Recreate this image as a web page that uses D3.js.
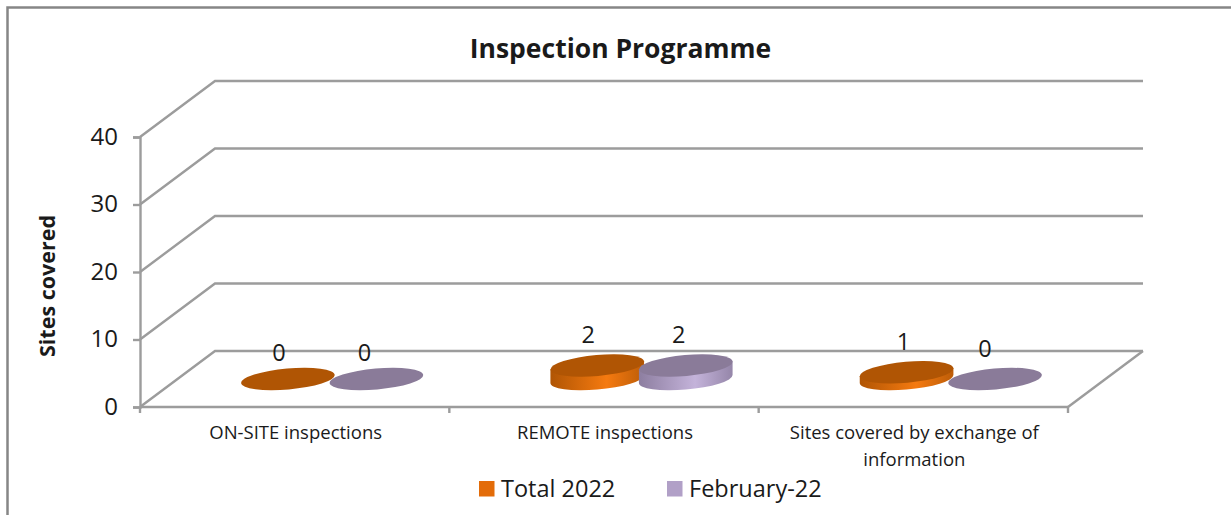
<!DOCTYPE html>
<html>
<head>
<meta charset="utf-8">
<script src="https://cdn.jsdelivr.net/npm/d3@7"></script>
<style>
    html, body { margin: 0; padding: 0; background: #fff; overflow: hidden; }
    text { font-family: "Open Sans", "Noto Sans", sans-serif; fill: #1a1a1a; }
</style>
</head>
<body>
<div id="chart"></div>
<script>
// chart data
const categories = ["ON-SITE inspections", "REMOTE inspections", "Sites covered by exchange of information"];
const seriesNames = ["Total 2022", "February-22"];
const total2022 = [0, 2, 1];
const february22 = [0, 2, 0];
const yTicks = [0, 10, 20, 30, 40];

const seriesData = [total2022, february22];
const seriesTop = ["#b05504", "#8a7b99"];
const seriesSwatch = ["#e36c09", "#b1a0c7"];
const seriesSide = [["#b05504", "#f57a10", "#bd5d08"], ["#8d7ea0", "#c4b3da", "#9586a9"]];

const width = 1231, height = 515;
const gridColor = "#9c9c9c";

// 3d box: the floor and walls are shifted back by this much
const depth = {x: 75, y: -56};

let svg = d3.select("#chart").append("svg")
    .attr("width", width)
    .attr("height", height);

let x = d3.scaleBand().domain(categories).range([140, 1068]);
let y = d3.scaleLinear().domain([0, 40]).range([407, 137]);
let xSeries = d3.scaleBand().domain(d3.range(seriesNames.length)).range([-88.5, 88.5]);

// outer frame, only top and left are in the picture
svg.append("path")
    .attr("d", `M7.5,${height}V7.5H${width}`)
    .attr("fill", "none")
    .attr("stroke", "#868686")
    .attr("stroke-width", 2.5);

svg.append("text")
    .attr("x", 620.5)
    .attr("y", 58)
    .attr("text-anchor", "middle")
    .style("font-size", "26.5px")
    .style("font-weight", 700)
    .text("Inspection Programme");

// gridlines on side wall and back wall
let walls = svg.append("g")
    .attr("fill", "none")
    .attr("stroke", gridColor)
    .attr("stroke-width", 2.4);

walls.selectAll("path")
    .data(yTicks)
    .enter().append("path")
    .attr("d", d => `M140,${y(d)}l${depth.x},${depth.y}H${1068 + depth.x}`);

walls.append("path")
    .attr("d", `M1068,${y(0)}l${depth.x},${depth.y}`);

// y axis
let yAxis = svg.append("g")
    .attr("transform", "translate(140,0)")
    .call(d3.axisLeft(y).tickValues(yTicks).tickSize(7).tickPadding(15));
yAxis.selectAll("line, path").attr("stroke", gridColor).attr("stroke-width", 2.4);
yAxis.selectAll("text")
    .style("font-size", "24px")
    .attr("font-family", null)
    .attr("dy", "0.3em");

svg.append("text")
    .attr("transform", "translate(55,286) rotate(-90)")
    .attr("text-anchor", "middle")
    .style("font-size", "21.5px")
    .style("font-weight", 700)
    .text("Sites covered");

// x axis, ticks sit between the categories
let xAxis = svg.append("g");
xAxis.append("line")
    .attr("x1", 140).attr("x2", 1068)
    .attr("y1", y(0)).attr("y2", y(0))
    .attr("stroke", gridColor).attr("stroke-width", 2.4);
xAxis.selectAll(".x-tick")
    .data(categories.map(d => x(d)).concat([x.range()[1]]))
    .enter().append("line")
    .attr("class", "x-tick")
    .attr("x1", d => d).attr("x2", d => d)
    .attr("y1", y(0)).attr("y2", y(0) + 6)
    .attr("stroke", gridColor).attr("stroke-width", 2.4);

let catLabels = svg.append("g").selectAll("text")
    .data(categories)
    .enter().append("text")
    .attr("text-anchor", "middle")
    .attr("y", 439)
    .style("font-size", "18.5px");

catLabels.each(function (d) {
    let lines = d.length > 30 ? ["Sites covered by exchange of", "information"] : [d];
    d3.select(this).selectAll("tspan")
        .data(lines)
        .enter().append("tspan")
        .attr("x", x(d) + x.bandwidth() / 2 + 1)
        .attr("dy", (l, i) => i * 27)
        .text(l => l);
});

// gradient for the cylinder sides
let defs = svg.append("defs");
seriesSide.forEach((stops, i) => {
    let grad = defs.append("linearGradient").attr("id", "side-" + i);
    stops.forEach((c, j) => {
        grad.append("stop")
            .attr("offset", [0, 0.6, 1][j])
            .attr("stop-color", c);
    });
});

// flat cylinders
const rx = 47, ry = 10.5, tilt = -5;
const rad = tilt * Math.PI / 180;
const floorY = y(0) + depth.y / 2;
// left/right extreme of a tilted ellipse, that is where the side wall starts
const t0 = Math.atan2(-ry * Math.sin(rad), rx * Math.cos(rad));
const edge = {
    x: rx * Math.cos(t0) * Math.cos(rad) - ry * Math.sin(t0) * Math.sin(rad),
    y: rx * Math.cos(t0) * Math.sin(rad) + ry * Math.sin(t0) * Math.cos(rad)
};

let bars = svg.append("g");
categories.forEach((cat, c) => {
    seriesNames.forEach((name, s) => {
        let v = seriesData[s][c];
        let cx = x(cat) + x.bandwidth() / 2 + depth.x / 2 + xSeries(s) + xSeries.bandwidth() / 2;
        let h = y(0) - y(v);
        let g = bars.append("g").attr("transform", `translate(${cx},${floorY})`);
        if (v > 0) {
            g.append("path")
                .attr("d", `M${-edge.x},${-edge.y - h}L${-edge.x},${-edge.y}` +
                    `A${rx},${ry} ${tilt} 0 0 ${edge.x},${edge.y}L${edge.x},${edge.y - h}Z`)
                .attr("fill", `url(#side-${s})`);
        }
        g.append("ellipse")
            .attr("rx", rx)
            .attr("ry", ry)
            .attr("transform", `translate(0,${-h}) rotate(${tilt})`)
            .attr("fill", seriesTop[s]);
    });
});

// value labels, nudged by hand like the original ones
const labelNudge = [[[-9, 0], [-12, 0]], [[-9, 0], [-7, 0]], [[-3, -1.5], [-10, -4]]];
categories.forEach((cat, c) => {
    seriesNames.forEach((name, s) => {
        let v = seriesData[s][c];
        let cx = x(cat) + x.bandwidth() / 2 + depth.x / 2 + xSeries(s) + xSeries.bandwidth() / 2;
        let n = labelNudge[c][s];
        svg.append("text")
            .attr("x", cx + n[0])
            .attr("y", floorY - (y(0) - y(v)) * 1.26 - 18.5 + n[1])
            .attr("text-anchor", "middle")
            .style("font-size", "23.5px")
            .text(v);
    });
});

// legend
const legendX = [479, 667];
let legend = svg.append("g").selectAll("g")
    .data(seriesNames)
    .enter().append("g")
    .attr("transform", (d, i) => `translate(${legendX[i]},481)`);
legend.append("rect")
    .attr("width", 15.5)
    .attr("height", 15.5)
    .attr("fill", (d, i) => seriesSwatch[i]);
legend.append("text")
    .attr("x", 22)
    .attr("y", 16)
    .style("font-size", "23.5px")
    .text(d => d);
</script>
</body>
</html>
